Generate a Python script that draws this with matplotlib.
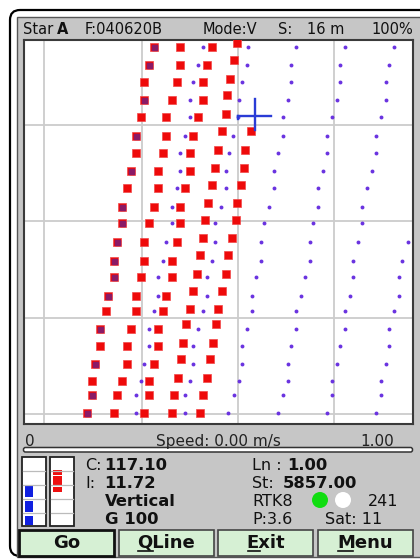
import matplotlib
matplotlib.use("Agg")
import matplotlib.pyplot as plt
from matplotlib.patches import FancyBboxPatch, Rectangle, Circle

# stakeout rows (screen units, y grows downwards)
row_y = [47, 65.3, 82, 100.3, 117, 136, 153, 171, 188, 206.5, 223.3,
         242.3, 260.7, 277.3, 296, 310.7, 329.3, 346, 364.3, 381, 395, 413.3]
first_x = [154.3, 149, 144.3, 144.3, 141, 135.7, 136, 130.7, 127.3, 122.3, 122.3,
           117.3, 114, 114, 108.3, 105.7, 100, 100, 95, 91.7, 91.7, 86.7]
first_on_grid = [1, 1, 0, 1, 0, 1, 0, 1, 0, 1, 1, 1, 1, 1, 1, 0, 1, 0, 1, 0, 1, 1]
second_x = [180, 180, 176.7, 171.7, 166, 166, 162.7, 157.7, 157.7, 154.3, 149,
            144.3, 144.3, 140.7, 135.7, 135.7, 131, 127.3, 127.3, 122.3, 117.3, 114]
third_x = [211.7, 207.3, 203.3, 203.3, 198.3, 193.3, 190, 190, 185, 180, 180,
           176.7, 171.7, 171.7, 166, 162.7, 157.7, 157.7, 154.3, 149.3, 149.3, 144.3]

# design points (purple) to the right of the first point in each row
grid_x = [
    [203.3, 247.7, 296, 345, 394],
    [198.3, 247.3, 291, 340, 389],
    [193.3, 242.3, 291, 340, 385.7],
    [190, 239, 287.7, 336.7, 385.7],
    [190, 238.3, 282.7, 331.7, 380.7],
    [185, 233.3, 282.7, 326.7, 375.7],
    [180, 229, 277.7, 326.7, 375.7],
    [180, 225.7, 274.3, 323.3, 372.3],
    [176.7, 225.7, 274.3, 318.3, 367.3],
    [171.7, 220.7, 269.3, 318.3, 362.3],
    [171.7, 215, 264.3, 313.3, 362.3],
    [166, 215, 260.7, 310, 358.3, 407.7],
    [162.7, 211.7, 260.7, 310, 353.3, 402.3],
    [157.7, 206.7, 255.7, 305, 353.3, 399],
    [157.7, 206.7, 252.3, 301, 350, 399],
    [154.3, 203.3, 252.3, 296, 345, 394],
    [149.3, 198.3, 247.3, 296, 345, 389],
    [149.3, 193.3, 242.3, 291, 340, 389],
    [144.3, 193.3, 242.3, 287.7, 336.7, 385.7],
    [141, 190, 239, 287.7, 331.7, 380.7],
    [135.7, 185, 234, 282.7, 331.7, 380.7],
    [135.7, 185, 228.3, 277.7, 326.7, 375.7],
]

# fourth and fifth recorded tracks (slightly offset in y)
track4_x = [237.3, 234.3, 230, 227.3, 225.7, 221.7, 218.3, 215, 211.7, 208.3, 205,
            203.3, 200, 196.7, 193.3, 190, 186, 182.7, 181, 178.3, 174.3, 171.7]
track4_y = [42.7, 60, 78.7, 95.3, 113.7, 131.3, 149.7, 168, 184.7, 203, 219.7,
            238.3, 255, 274, 291, 309.3, 324.3, 342.7, 359.3, 377.7, 395, 413.3]
track5_x = [250.7, 245, 244, 240.7, 237.3, 235.7, 232.3, 228.3, 225.7, 221.7, 218.3,
            215.7, 213.3, 210, 206.7, 203.3, 200]
track5_y = [131, 149.7, 168, 184.7, 203, 219.7, 238.3, 255, 274, 291, 309.3,
            324.3, 342.7, 359.3, 377.7, 395, 413.3]

grid_lines_x = [43.5, 142, 238, 334]
grid_lines_y = [125, 221, 318, 414]
cursor = (255, 115.5)

RED = "#ee0a0a"
RED_EDGE = "#f24848"
DARK = "#8a1a66"
PURPLE = "#6a33e0"
PANEL = "#c6c6c6"
BTN = "#d6f0d4"

W, H = 420, 559
fig = plt.figure(figsize=(W / 100, H / 100), dpi=100)
fig.patch.set_facecolor("white")

ui = fig.add_axes([0, 0, 1, 1])
ui.set_xlim(0, W)
ui.set_ylim(H, 0)
ui.axis("off")

# device frame and screen
ui.add_patch(FancyBboxPatch((10, 10), W + 20, H - 13, boxstyle="round,pad=0,rounding_size=10",
                            facecolor="white", edgecolor="black", linewidth=1.6))
ui.add_patch(Rectangle((17, 17), W, 540, facecolor=PANEL, edgecolor="#555555", linewidth=1.0))

# header
hdr = dict(fontsize=10.5, color="#111111", va="baseline", ha="left")
ui.text(23, 34, "Star", **hdr)
ui.text(57, 34, "A", fontweight="bold", **hdr)
ui.text(85, 34, "F:040620B", **hdr)
ui.text(203, 34, "Mode:V", **hdr)
ui.text(278, 34, "S:", **hdr)
ui.text(307, 34, "16 m", **hdr)
ui.text(413, 34, "100%", fontsize=10.5, color="#111111", va="baseline", ha="right")

# plot area
x0, x1, y0, y1 = 24, 412.5, 40, 424
ax = fig.add_axes([x0 / W, 1 - y1 / H, (x1 - x0) / W, (y1 - y0) / H])
ax.set_xlim(x0, x1)
ax.set_ylim(y1, y0)
ax.set_facecolor("white")
ax.set_xticks(grid_lines_x)
ax.set_yticks(grid_lines_y)
ax.tick_params(length=0, labelbottom=False, labelleft=False)
ax.grid(True, color="#cccccc", linewidth=1.3)
for s in ax.spines.values():
    s.set_color("#3a3a3a")
    s.set_linewidth(1.5)

sq = dict(linestyle="none", marker="s", markersize=6.0, markerfacecolor=RED,
          markeredgecolor=RED_EDGE, markeredgewidth=0.5, zorder=3)
ax.plot(first_x, row_y, **sq)
ax.plot(second_x, row_y, **sq)
ax.plot(third_x, row_y, **sq)
ax.plot(track4_x, track4_y, **sq)
ax.plot(track5_x, track5_y, **sq)

dark_x = [x for x, g in zip(first_x, first_on_grid) if g]
dark_y = [y for y, g in zip(row_y, first_on_grid) if g]
ax.plot(dark_x, dark_y, linestyle="none", marker="s", markersize=3.6, color=DARK, zorder=4)

px, py = [], []
for y, xs in zip(row_y, grid_x):
    px.extend(xs)
    py.extend([y] * len(xs))
ax.plot(px, py, linestyle="none", marker="o", markersize=2.8, color=PURPLE,
        markeredgewidth=0, zorder=2)

cx, cy = cursor
ax.plot([cx - 17, cx + 16], [cy, cy], color="#2a3cd6", linewidth=1.7, zorder=5)
ax.plot([cx, cx], [cy - 16.5, cy + 14.5], color="#2a3cd6", linewidth=1.7, zorder=5)
ax.plot([cx - 17, cx - 17], [cy, cy + 3], color="#2a3cd6", linewidth=1.7, zorder=5)

# speed row
sp = dict(fontsize=11, color="#222222", va="baseline")
ui.text(25, 446, "0", ha="left", **sp)
ui.text(218, 446, "Speed: 0.00 m/s", ha="center", **sp)
ui.text(394, 446, "1.00", ha="right", **sp)
ui.add_patch(FancyBboxPatch((23.5, 447.5), 389, 4.5, boxstyle="round,pad=0,rounding_size=2",
                            facecolor="white", edgecolor="#333333", linewidth=1.1))

# level meters
for mx in (22, 50):
    ui.add_patch(Rectangle((mx, 457), 24, 69, facecolor="white", edgecolor="#222222", linewidth=1.3))
    for ly in (471, 485, 499, 513):
        ui.plot([mx + 1, mx + 23], [ly, ly], color="#bbbbbb", linewidth=0.9)
for by0, by1 in ((486, 497), (501, 512), (516, 525)):
    ui.add_patch(Rectangle((25, by0), 8.3, by1 - by0, facecolor="#1020e0", edgecolor="none"))
for by0, by1 in ((470, 475), (476, 486), (487, 492)):
    ui.add_patch(Rectangle((53.3, by0), 8.4, by1 - by0, facecolor="#ee1111", edgecolor="none"))

# readouts
nrm = dict(fontsize=11.5, color="#111111", va="baseline", ha="left")
bld = dict(fontsize=11.8, color="#111111", va="baseline", ha="left", fontweight="bold")
ui.text(85, 470, "C:", **nrm)
ui.text(104, 470, "117.10", **bld)
ui.text(85, 488, "I:", **nrm)
ui.text(104, 488, "11.72", **bld)
ui.text(105, 506, "Vertical", **bld)
ui.text(105, 524, "G 100", **bld)

ui.text(252, 470, "Ln :", **nrm)
ui.text(287, 470, "1.00", **bld)
ui.text(252, 488, "St:", **nrm)
ui.text(283, 488, "5857.00", **bld)
ui.text(252, 506, "RTK8", **nrm)
ui.add_patch(Circle((320, 500), 8, facecolor="#11dd11", edgecolor="none"))
ui.add_patch(Circle((343, 500), 8, facecolor="white", edgecolor="none"))
ui.text(398, 506, "241", fontsize=11.5, color="#111111", va="baseline", ha="right")
ui.text(252, 524, "P:3.6", **nrm)
ui.text(325, 524, "Sat: 11", **nrm)

# soft keys
buttons = ["Go", "QLine", "Exit", "Menu"]
btn_x = [(19, 114), (119, 214), (218, 313), (318, 413)]
underline = [None, (138, 153), (248, 260), (338, 353)]
for i, (label, (bx0, bx1)) in enumerate(zip(buttons, btn_x)):
    ui.add_patch(Rectangle((bx0, 530), bx1 - bx0, 26, facecolor=BTN,
                           edgecolor="#111111" if i == 0 else "#444444",
                           linewidth=2.0 if i == 0 else 1.2))
    ui.text((bx0 + bx1) / 2, 548, label, fontsize=13, fontweight="bold",
            color="#111111", ha="center", va="baseline")
    if underline[i]:
        ui.plot(underline[i], [551, 551], color="#111111", linewidth=1.2)

fig.savefig("out.png", dpi=100)
